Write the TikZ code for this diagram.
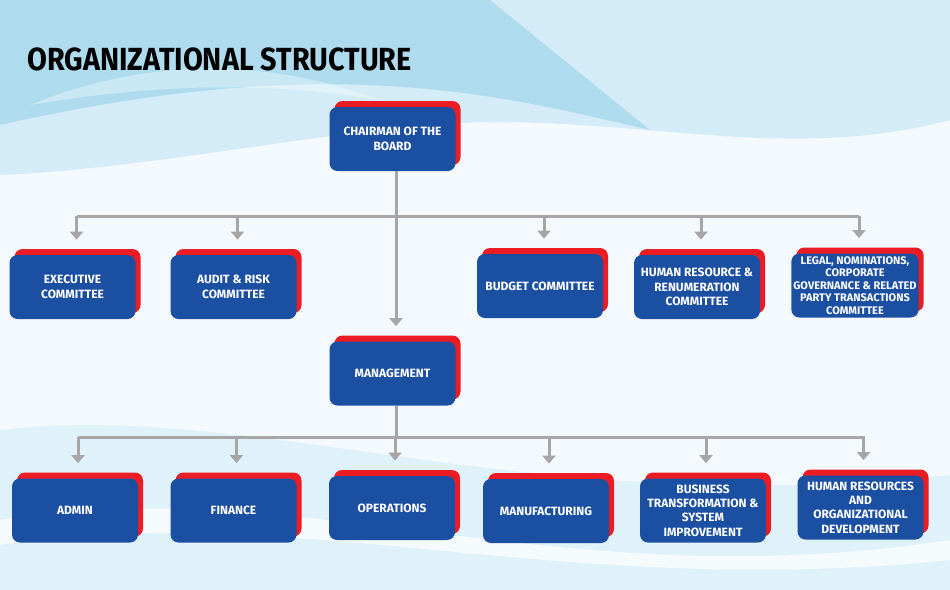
\documentclass[tikz,border=0pt]{standalone}
\usepackage{fontspec}
\setmainfont{Fira Sans}
\usepackage{graphicx}
\usepackage{tikz}
\usetikzlibrary{arrows.meta,positioning,shadows}
\definecolor{orgBlue}{HTML}{1B4FA2}
\definecolor{orgRed}{HTML}{EC1C24}
\definecolor{orgGray}{HTML}{A6A6A6}
\definecolor{bgBase}{HTML}{F3F9FC}
\definecolor{bgSky}{HTML}{D3ECF7}
\definecolor{bgDeep}{HTML}{AEDCEE}
\tikzset{
  % Unit card: blue face, red card peeking out behind it.
  org/box/.style={
    fill=orgBlue, rounded corners=4pt, text=white, align=center,
    font=\fontsize{6}{7.2}\selectfont\bfseries,
    minimum width=63pt, minimum height=32pt, inner sep=1pt,
    general shadow={fill=orgRed, shadow xshift=2.5pt, shadow yshift=3pt}
  },
  % Reporting lines.
  org/bar/.style={draw=orgGray, line width=1.5pt},
  org/arrow/.style={
    org/bar, -{Triangle[length=4pt,width=6.5pt]}, shorten >=7.5pt
  },
  org/title/.style={
    font=\fontsize{16}{18}\selectfont\bfseries, text=black,
    anchor=base west, inner sep=0pt
  },
}

\begin{document}
\begin{tikzpicture}[x=0.5pt,y=-0.5pt,
  tight/.style={font=\fontsize{5.5}{6.3}\selectfont\bfseries}]

  % backdrop
  \useasboundingbox (0,0) rectangle (950,590);
  \fill[bgBase] (0,0) rectangle (950,590);
  \fill[bgSky] (0,0) -- (950,0) -- (950,120)
     .. controls (760,170) and (600,100) .. (380,130)
     .. controls (250,145) and (120,170) .. (0,175) -- cycle;
  \fill[bgDeep] (0,0) -- (490,0) -- (650,130)
     .. controls (500,95) and (330,50) .. (0,125) -- cycle;
  \fill[white, opacity=0.35] (30,105) .. controls (140,60) and (260,55) .. (380,100)
     .. controls (260,80) and (150,85) .. (30,105) -- cycle;
  \fill[bgSky, opacity=0.6] (0,430) .. controls (260,400) and (520,520) .. (950,475)
     -- (950,590) -- (0,590) -- cycle;
  \fill[white, opacity=0.7] (0,520) .. controls (300,470) and (560,600) .. (950,540)
     -- (950,560) .. controls (560,600) and (300,500) .. (0,545) -- cycle;

  \node[org/title] (title) at (27,70) {\scalebox{0.9}[1]{ORGANIZATIONAL STRUCTURE}};

  \node[org/box] (chair) at (392.5,139) {CHAIRMAN OF THE\\BOARD};

  \node[org/box] (exec)   at (72.5,287)  {EXECUTIVE\\COMMITTEE};
  \node[org/box] (audit)  at (233.5,287) {AUDIT \& RISK\\COMMITTEE};
  \node[org/box] (budget) at (540,286)   {BUDGET COMMITTEE};
  \node[org/box] (hrrem)  at (697,287)   {HUMAN RESOURCE \&\\RENUMERATION\\COMMITTEE};
  \node[org/box, tight] (legal) at (855,285.5)
       {LEGAL, NOMINATIONS,\\CORPORATE\\GOVERNANCE \& RELATED\\PARTY TRANSACTIONS\\COMMITTEE};

  \node[org/box] (mgmt) at (392.5,373.5) {MANAGEMENT};

  \node[org/box] (admin)   at (75,510.5)    {ADMIN};
  \node[org/box] (finance) at (233.5,510.5) {FINANCE};
  \node[org/box] (ops)     at (392,508)     {OPERATIONS};
  \node[org/box] (manuf)   at (546,511)     {MANUFACTURING};
  \node[org/box] (bizt)    at (703,510.5)   {BUSINESS\\TRANSFORMATION \&\\SYSTEM\\IMPROVEMENT};
  \node[org/box] (hrdev)   at (860.5,507.5) {HUMAN RESOURCES\\AND\\ORGANIZATIONAL\\DEVELOPMENT};

  % board level
  \coordinate (busTop) at (396,216);
  \coordinate (busLow) at (396,437);
  \draw[org/bar] ([xshift=2pt]exec.north |- busTop) -- ([xshift=2pt]legal.north |- busTop);
  \draw[org/arrow] ([xshift=1.75pt]chair.south) -- ([xshift=1.75pt]mgmt.north);
  \foreach \n in {exec,audit,budget,hrrem,legal}
    \draw[org/arrow] ([xshift=2pt]\n.north |- busTop) -- ([xshift=2pt]\n.north);

  % management level
  \draw[org/bar] ([xshift=1.75pt]mgmt.south) -- (busLow);
  \draw[org/bar] ([xshift=1.5pt]admin.north |- busLow) -- ([xshift=2pt]hrdev.north |- busLow);
  \foreach \n in {admin,finance,ops,manuf,bizt,hrdev}
    \draw[org/arrow] ([xshift=1.5pt]\n.north |- busLow) -- ([xshift=1.5pt]\n.north);
\end{tikzpicture}
\end{document}
